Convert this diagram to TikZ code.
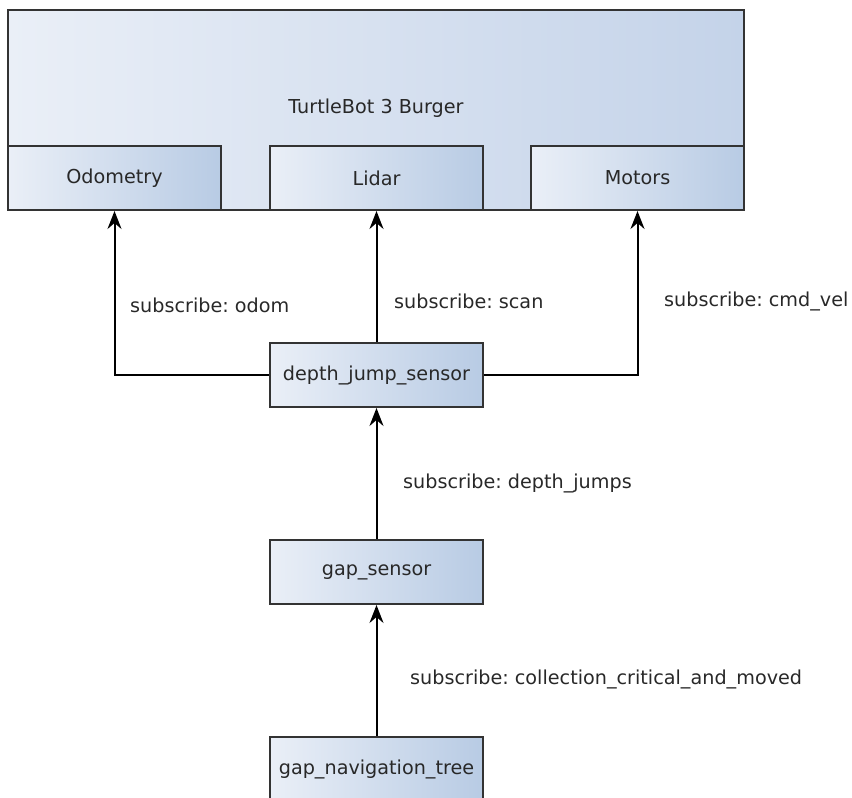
\documentclass[tikz,border=0pt]{standalone}
\usepackage{fontspec}
\setmainfont{DejaVu Sans}
\usetikzlibrary{arrows.meta}
\frenchspacing

\definecolor{boxleft}{RGB}{234,239,247}
\definecolor{boxright}{RGB}{184,203,228}
\definecolor{bigright}{RGB}{196,211,233}
\definecolor{edgegray}{RGB}{51,51,51}
\definecolor{textgray}{RGB}{40,40,40}

\tikzset{
  part/.style={draw=edgegray, line width=2pt, left color=boxleft, right color=boxright,
    minimum width=213pt, minimum height=64pt, text=textgray, inner sep=0pt},
  topic/.style={anchor=west, text=textgray, inner sep=0pt},
  sub/.style={-{Stealth[length=18pt, width=14pt, inset=6pt]}, line width=2pt, black}
}

\begin{document}
\begin{tikzpicture}[x=1pt, y=-1pt, font=\fontsize{19.2}{23}\selectfont]

        \useasboundingbox (0,0) rectangle (852,798);

        % robot with its three parts
        \node [part, left color=boxleft, right color=bigright, minimum width=736pt, minimum height=200pt] (robot) at (376,110) {};
        \node [text=textgray] (robotname) at (376,108) {TurtleBot 3 Burger};
        \node [part] (odom) at (114.5,178) {Odometry};
        \node [part] (lidar) at (376.5,178) {Lidar};
        \node [part] (motors) at (637.5,178) {Motors};

        % nodes
        \node [part] (djs) at (376.5,375) {depth\_jump\_sensor};
        \node [part] (gaps) at (376.5,572) {gap\_sensor};
        \node [part] (gnt) at (376.5,769) {gap\_navigation\_tree};

        \draw[sub] (djs.west) -| (odom.south);
        \draw[sub] (djs.north) -- (lidar.south);
        \draw[sub] (djs.east) -| (motors.south);
        \draw[sub] (gaps.north) -- (djs.south);
        \draw[sub] (gnt.north) -- (gaps.south);

        \node [topic] (tOdom) at (130,305) {subscribe: odom};
        \node [topic] (tScan) at (394,301) {subscribe: scan};
        \node [topic] (tCmd) at (664,301) {subscribe: cmd\_vel};
        \node [topic] (tJumps) at (403,483) {subscribe: depth\_jumps};
        \node [topic] (tColl) at (410,679) {subscribe: collection\_critical\_and\_moved};

      \end{tikzpicture}
\end{document}
